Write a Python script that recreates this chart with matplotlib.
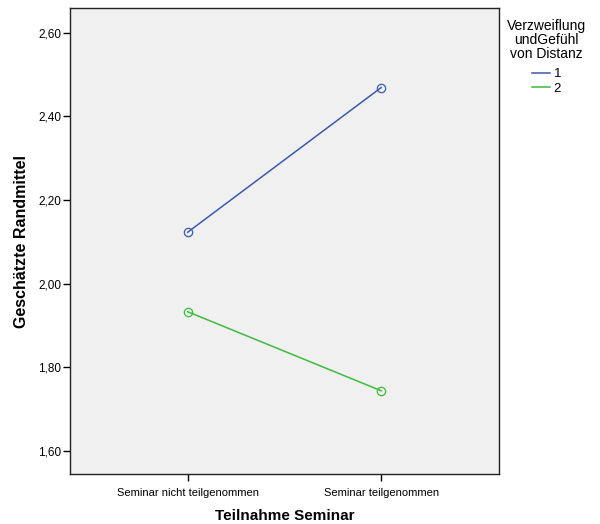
import matplotlib

matplotlib.use("Agg")
import matplotlib.pyplot as plt
from matplotlib.ticker import FuncFormatter

plt.rcParams["font.family"] = ["Liberation Sans", "DejaVu Sans"]

# estimated marginal means per group of "Verzweiflung und Gefühl von Distanz"
categories = ["Seminar nicht teilgenommen", "Seminar teilgenommen"]
group_labels = ["1", "2"]
means_group1 = [2.123, 2.469]
means_group2 = [1.933, 1.744]
y_ticks = [1.60, 1.80, 2.00, 2.20, 2.40, 2.60]

COLORS = ["#3D59AB", "#3CBB3C"]

fig = plt.figure(figsize=(6.0, 5.24), dpi=100)
ax = fig.add_axes((0.116, 0.0955, 0.716, 0.889))
ax.set_facecolor("#F0F0F0")

x = list(range(len(categories)))
for values, label, color in zip((means_group1, means_group2), group_labels, COLORS):
    ax.plot(
        x,
        values,
        color=color,
        linewidth=1.1,
        marker="o",
        markersize=6,
        markerfacecolor="none",
        markeredgecolor=color,
        markeredgewidth=0.9,
        label=label,
    )

ax.set_xlim(-0.61, 1.61)
ax.set_ylim(1.545, 2.659)
ax.set_xticks(x)
ax.set_xticklabels(categories, fontsize=8)
ax.set_yticks(y_ticks)
ax.yaxis.set_major_formatter(FuncFormatter(lambda v, _: f"{v:.2f}".replace(".", ",")))
ax.tick_params(axis="y", labelsize=8.5, length=5, width=1, pad=0.8)
ax.tick_params(axis="x", length=5, width=1, pad=5)
for spine in ax.spines.values():
    spine.set_linewidth(1.0)
    spine.set_color("#222222")

ax.set_xlabel("Teilnahme Seminar", fontsize=11, fontweight="bold", labelpad=8)
ax.set_ylabel("Geschätzte Randmittel", fontsize=11.5, fontweight="bold", labelpad=7)

# legend title drawn separately so it stays centred above the entries
fig.text(
    546.5 / 600,
    1 - 19 / 524,
    "Verzweiflung\nundGefühl\nvon Distanz",
    ha="center",
    va="top",
    fontsize=10,
    linespacing=0.98,
)
fig.legend(
    [plt.Line2D([], [], color=c, linewidth=1.1) for c in COLORS],
    group_labels,
    loc="upper left",
    bbox_to_anchor=(532 / 600, 1 - 68 / 524),
    frameon=False,
    fontsize=9.5,
    handlelength=1.35,
    handletextpad=0.3,
    labelspacing=0.2,
    borderpad=0,
    borderaxespad=0,
)

fig.savefig("out.png", dpi=100)
